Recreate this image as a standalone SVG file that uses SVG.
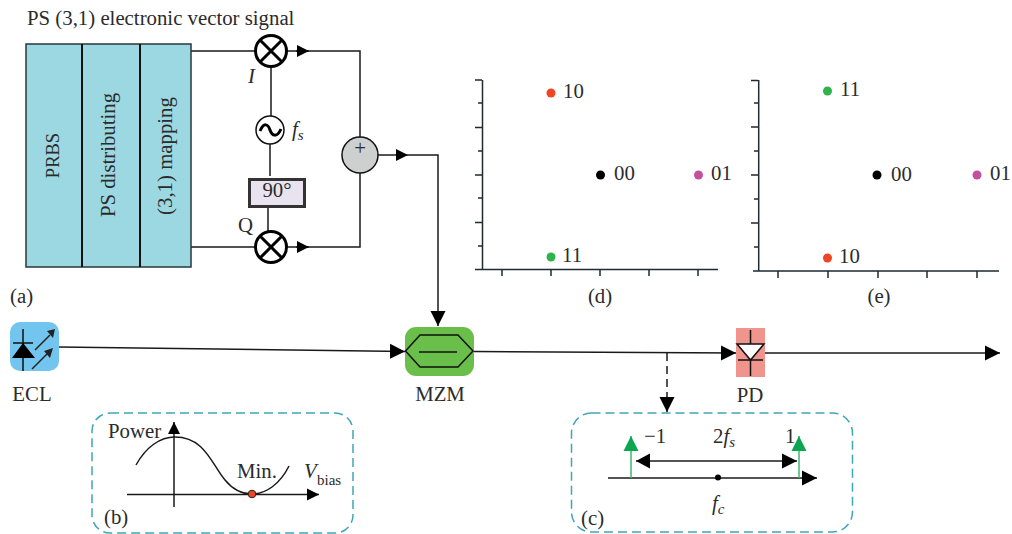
<svg xmlns="http://www.w3.org/2000/svg" width="1012" height="534" viewBox="0 0 1012 534">
<style>
text{font-family:"Liberation Serif","Times New Roman",serif;font-size:20.8px;fill:#2b2b2b}
.it{font-style:italic}
.ln{fill:none;stroke:#1a1a1a;stroke-width:1.5}
.ax{fill:none;stroke:#1f2a33;stroke-width:1.5}
.bx{fill:none;stroke:#3ea6b5;stroke-width:1.5;stroke-dasharray:9 5}
.mx{fill:#fff;stroke:#000;stroke-width:3}
.m{text-anchor:middle}
.sub{font-size:15px}
</style>
<defs>
<marker id="a" markerUnits="userSpaceOnUse" markerWidth="16" markerHeight="16" refX="15" refY="8" orient="auto"><path d="M0 0.5L15 8L0 15.5Z" fill="#000"/></marker>
<marker id="g" markerUnits="userSpaceOnUse" markerWidth="16" markerHeight="16" refX="15" refY="8" orient="auto"><path d="M0 0.5L15 8L0 15.5Z" fill="#0aa650"/></marker>
<marker id="s" markerUnits="userSpaceOnUse" markerWidth="13" markerHeight="14" refX="12" refY="7" orient="auto"><path d="M0 1L12 7L0 13Z" fill="#000"/></marker>
<g id="mix"><circle r="15.5" class="mx"/><path d="M-11-11L11 11M-11 11L11-11" stroke="#000" stroke-width="3"/></g>
</defs>

<g id="connectors">
<path class="ln" d="M191 51H256M191 247H256"/>
<path class="ln" d="M286 51H360V137M286 247H360V173"/>
<path class="ln" d="M296 51H309" marker-end="url(#s)"/>
<path class="ln" d="M296 247H309" marker-end="url(#s)"/>
<path class="ln" d="M378 155H408" marker-end="url(#s)"/>
<path class="ln" d="M408 155H438V326" marker-end="url(#a)"/>
<path class="ln" d="M271 66V116M270 144V176M268 207V232"/>
<path class="ln" d="M59 347L405 351.500" marker-end="url(#a)"/>
<path class="ln" d="M474 351.500L736 353" marker-end="url(#a)"/>
<path class="ln" d="M765 353H1000" marker-end="url(#a)"/>
<path class="ln" d="M667 353V412" stroke-dasharray="8 5" marker-end="url(#a)"/>
</g>

<g id="signal-blocks">
<rect x="26" y="44" width="165" height="223" fill="#9cd8e2" stroke="#26383d" stroke-width="1.500"/>
<path d="M82 44V267M140 44V267" stroke="#111" stroke-width="2"/>
<text class="m" style="font-size:18.500px" transform="translate(59 155.500) rotate(-90)">PRBS</text>
<text class="m" transform="translate(115 155) rotate(-90)">PS distributing</text>
<text class="m" transform="translate(172 156) rotate(-90)">(3,1) mapping</text>
</g>
<text id="title" x="27" y="25">PS (3,1) electronic vector signal</text>
<text id="label-a" x="10" y="303">(a)</text>

<g id="mixer-i"><use href="#mix" x="271" y="51"/><text class="it" x="248" y="83">I</text></g>
<g id="oscillator"><circle cx="270" cy="130" r="14" fill="#fff" stroke="#111" stroke-width="1.500"/><path d="M260 131C264 122 268 124 270 130C272 136 277 138 281 129" fill="none" stroke="#000" stroke-width="3"/><text class="it" x="292" y="136">f<tspan font-size="15" dy="4">s</tspan></text></g>
<g id="phase-shift"><rect x="249.500" y="179.500" width="55" height="27" fill="#e9e3ef" stroke="#333" stroke-width="3"/><text class="m" x="277" y="197">90°</text></g>
<g id="mixer-q"><use href="#mix" x="271" y="247"/><text x="238" y="232">Q</text></g>
<g id="summer"><circle cx="360" cy="155" r="18" fill="#cdd0ce" stroke="#111" stroke-width="1.500"/><text class="m" x="360" y="155">+</text></g>

<g id="plot-d">
<path class="ax" d="M482.500 80V269.500M475 269.500H718M475 80H482M478 103H482M475 127.500H482M478 151H482M475 175H482M478 198H482M475 222.500H482M478 246H482M502 270V276M551 270V276M600 270V276M649 270V276M698 270V276"/>
<circle cx="551" cy="93" r="4.500" fill="#f04523"/><circle cx="600.500" cy="175" r="4.500" fill="#000"/><circle cx="698.500" cy="175" r="4.500" fill="#c2509f"/><circle cx="551" cy="257" r="4.500" fill="#2fb34a"/>
<text x="563" y="98">10</text><text x="614" y="180">00</text><text x="711" y="180">01</text><text x="562" y="262">11</text>
<text class="m" x="600" y="303">(d)</text>
</g>
<g id="plot-e">
<path class="ax" d="M758.700 80V271M753 271H999M751 80.500H758M754 103H758M751 127H758M754 151H758M751 175H758M754 199H758M751 223H758M754 247H758M778 271V278M828 271V278M878 271V278M927 271V278M977 271V278"/>
<circle cx="827.500" cy="91" r="4.500" fill="#2fb34a"/><circle cx="877" cy="175" r="4.500" fill="#000"/><circle cx="977" cy="175" r="4.500" fill="#c2509f"/><circle cx="827.500" cy="258" r="4.500" fill="#f04523"/>
<text x="840" y="96">11</text><text x="891" y="181">00</text><text x="990" y="180">01</text><text x="839" y="263">10</text>
<text class="m" x="879" y="303">(e)</text>
</g>

<g id="ecl">
<rect x="10" y="322" width="49" height="49" rx="10" fill="#72c5ee"/>
<path d="M23 329V371M13 343H33" stroke="#111" stroke-width="1.500" fill="none"/>
<path d="M23 343L35 358H12Z" fill="#000"/>
<path d="M35 350L50 335M32 369L48 353" stroke="#222" stroke-width="1.500"/>
<path d="M55 329L47 331L53 338ZM53 348L44 351L50 358Z" fill="#222"/>
<text class="m" x="32" y="401">ECL</text>
</g>
<g id="mzm">
<rect x="405" y="327" width="69" height="49" rx="11" fill="#6abf4b"/>
<path d="M405.500 351L420 335H458L473 351L458 367H420Z" fill="none" stroke="#111" stroke-width="1.500"/>
<path d="M419 352H457" stroke="#111" stroke-width="1.500"/>
<text class="m" x="440" y="401">MZM</text>
</g>
<g id="pd">
<rect x="736" y="328" width="29" height="49" fill="#f0958d"/>
<path d="M737 344H764L750.500 360Z" fill="#fff" stroke="#111" stroke-width="1.500"/>
<path d="M750.500 330V344M750.500 360V376M738 360H763" stroke="#111" stroke-width="1.500" fill="none"/>
<text class="m" x="750" y="402">PD</text>
</g>

<g id="inset-b">
<rect class="bx" x="92" y="413" width="261" height="120" rx="18"/>
<path class="ln" d="M174 507V422" marker-end="url(#s)"/>
<path class="ln" d="M127 494.500H319" marker-end="url(#s)"/>
<path class="ln" d="M136 465C146 447 160 437 175 437C205 437 212 465 225 480C234 491 243 494 252 494C266 494 280 484 289 466"/>
<circle cx="252" cy="494" r="3.800" fill="#f04523" stroke="#222"/>
<text x="108" y="438">Power</text>
<text x="237" y="478">Min.</text>
<text class="it" x="304" y="478">V</text><text class="sub" x="317" y="485">bias</text>
<text x="104" y="524">(b)</text>
</g>
<g id="inset-c">
<rect class="bx" x="571.500" y="413" width="281" height="119" rx="20"/>
<path class="ln" d="M608 478H817" marker-end="url(#a)"/>
<path d="M631 478V436" stroke="#3fb56f" stroke-width="1.500" fill="none" marker-end="url(#g)"/>
<path d="M799 478V436" stroke="#3fb56f" stroke-width="1.500" fill="none" marker-end="url(#g)"/>
<path class="ln" d="M636 461H797" marker-end="url(#a)"/>
<path d="M650 453.500L636 461L650 468.500Z" fill="#000"/>
<circle cx="718" cy="477.500" r="3" fill="#000"/>
<text x="644" y="443">−1</text>
<text x="713" y="443">2<tspan class="it">f</tspan><tspan class="it" font-size="15" dy="4">s</tspan></text>
<text x="785" y="443">1</text>
<text class="it" x="712" y="510">f<tspan font-size="15" dy="4">c</tspan></text>
<text x="581" y="525">(c)</text>
</g>
</svg>
